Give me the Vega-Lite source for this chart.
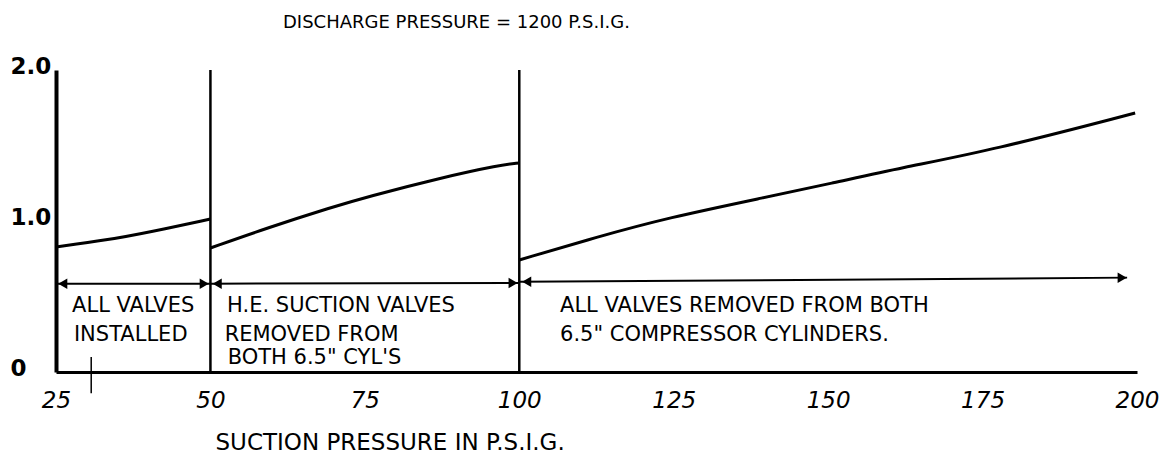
{
  "$schema": "https://vega.github.io/schema/vega-lite/v6.json",
  "width": 1081,
  "height": 302,
  "autosize": {"type": "none"},
  "padding": {"left": 56, "top": 70, "right": 30, "bottom": 84},
  "background": "white",
  "config": {"view": {"stroke": null}, "font": "DejaVu Sans"},
  "title": {
    "text": "DISCHARGE PRESSURE = 1200 P.S.I.G.",
    "anchor": "start",
    "frame": "group",
    "dx": 227,
    "offset": 9,
    "baseline": "alphabetic",
    "fontSize": 18,
    "fontWeight": "normal",
    "color": "black",
    "font": "DejaVu Sans"
  },
  "datasets": {
    "bounds": [
      {"p": 50, "v": 0, "v2": 2},
      {"p": 100, "v": 0, "v2": 2}
    ],
    "mark": [
      {"p": 30.7, "v": -0.14, "v2": 0.1}
    ],
    "curves": [
      {"seg": "A", "p": 25, "v": 0.828},
      {"seg": "A", "p": 33.3, "v": 0.874},
      {"seg": "A", "p": 40.2, "v": 0.927},
      {"seg": "A", "p": 50, "v": 1.013},
      {"seg": "B", "p": 50, "v": 0.821},
      {"seg": "B", "p": 59.2, "v": 0.954},
      {"seg": "B", "p": 69.8, "v": 1.093},
      {"seg": "B", "p": 75.3, "v": 1.159},
      {"seg": "B", "p": 87.2, "v": 1.285},
      {"seg": "B", "p": 96.9, "v": 1.371},
      {"seg": "B", "p": 100, "v": 1.384},
      {"seg": "C", "p": 100, "v": 0.742},
      {"seg": "C", "p": 112.6, "v": 0.894},
      {"seg": "C", "p": 123.9, "v": 1.02},
      {"seg": "C", "p": 140.1, "v": 1.159},
      {"seg": "C", "p": 150.8, "v": 1.252},
      {"seg": "C", "p": 161.6, "v": 1.351},
      {"seg": "C", "p": 176.7, "v": 1.47},
      {"seg": "C", "p": 199.7, "v": 1.715}
    ],
    "shafts": [
      {"p": 25, "v": 0.585, "p2": 50, "v2": 0.585},
      {"p": 50, "v": 0.585, "p2": 100, "v2": 0.59},
      {"p": 100, "v": 0.597, "p2": 198.4, "v2": 0.625}
    ],
    "heads": [
      {"p": 26.1, "v": 0.585, "dir": "left"},
      {"p": 49.0, "v": 0.585, "dir": "right"},
      {"p": 51.1, "v": 0.585, "dir": "left"},
      {"p": 99.0, "v": 0.59, "dir": "right"},
      {"p": 101.2, "v": 0.597, "dir": "left"},
      {"p": 197.6, "v": 0.624, "dir": "right"}
    ],
    "notes": [
      {"p": 27.6, "v": 0.434, "t": "ALL VALVES"},
      {"p": 27.9, "v": 0.245, "t": "INSTALLED"},
      {"p": 52.7, "v": 0.434, "t": "H.E. SUCTION VALVES"},
      {"p": 52.3, "v": 0.245, "t": "REMOVED FROM"},
      {"p": 52.8, "v": 0.09, "t": "BOTH 6.5\" CYL'S"},
      {"p": 106.6, "v": 0.434, "t": "ALL VALVES REMOVED FROM BOTH"},
      {"p": 106.6, "v": 0.245, "t": "6.5\" COMPRESSOR CYLINDERS."}
    ]
  },
  "encoding": {
    "x": {
      "field": "p",
      "type": "quantitative",
      "scale": {"domain": [25, 200], "nice": false, "zero": false},
      "title": "SUCTION PRESSURE IN P.S.I.G.",
      "axis": {
        "values": [25, 50, 75, 100, 125, 150, 175, 200],
        "grid": false,
        "ticks": false,
        "tickSize": 0,
        "domainColor": "black",
        "domainWidth": 3,
        "labelFont": "DejaVu Sans",
        "labelFontSize": 23,
        "labelFontStyle": "italic",
        "labelColor": "black",
        "labelPadding": 28,
        "labelBaseline": "middle",
        "labelFlush": false,
        "labelOverlap": false,
        "titleFont": "DejaVu Sans",
        "titleFontSize": 23,
        "titleFontWeight": "normal",
        "titleColor": "black",
        "titleAnchor": "start",
        "titleAlign": "left",
        "titleBaseline": "middle",
        "titleX": 159,
        "titleY": 70
      }
    },
    "y": {
      "field": "v",
      "type": "quantitative",
      "scale": {"domain": [0, 2], "nice": false},
      "title": null,
      "axis": {
        "values": [0, 1, 2],
        "labelExpr": "datum.value == 0 ? '0' : format(datum.value, '.1f')",
        "grid": false,
        "ticks": false,
        "tickSize": 0,
        "domainColor": "black",
        "domainWidth": 4,
        "labelFont": "DejaVu Sans",
        "labelFontSize": 23,
        "labelFontWeight": "bold",
        "labelColor": "black",
        "labelAlign": "left",
        "labelBaseline": "middle",
        "labelPadding": 46,
        "labelOffset": -4,
        "labelFlush": false,
        "labelOverlap": false
      }
    }
  },
  "layer": [
    {
      "data": {"name": "bounds"},
      "mark": {"type": "rule", "color": "black", "strokeWidth": 2.5},
      "encoding": {"y2": {"field": "v2"}}
    },
    {
      "data": {"name": "mark"},
      "mark": {"type": "rule", "color": "black", "strokeWidth": 1.5},
      "encoding": {"y2": {"field": "v2"}}
    },
    {
      "data": {"name": "curves"},
      "mark": {"type": "line", "color": "black", "strokeWidth": 3, "interpolate": "basis"},
      "encoding": {"detail": {"field": "seg"}}
    },
    {
      "data": {"name": "shafts"},
      "mark": {"type": "rule", "color": "black", "strokeWidth": 2},
      "encoding": {"x2": {"field": "p2"}, "y2": {"field": "v2"}}
    },
    {
      "data": {"name": "heads"},
      "mark": {"type": "point", "filled": true, "color": "black", "size": 110, "opacity": 1},
      "encoding": {
        "shape": {
          "field": "dir",
          "type": "nominal",
          "scale": {"domain": ["left", "right"], "range": ["triangle-left", "triangle-right"]},
          "legend": null
        }
      }
    },
    {
      "data": {"name": "notes"},
      "mark": {"type": "text", "align": "left", "baseline": "middle", "font": "DejaVu Sans", "fontSize": 21, "color": "black"},
      "encoding": {"text": {"field": "t"}}
    }
  ]
}
